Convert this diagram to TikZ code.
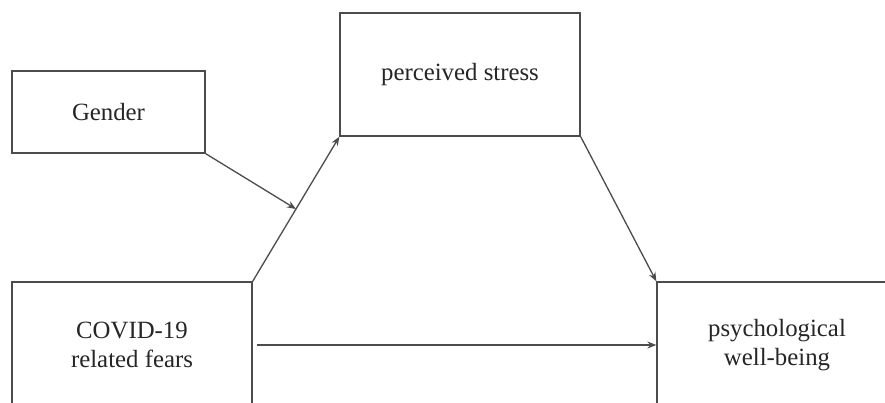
\documentclass[tikz,border=0pt]{standalone}
\usepackage{fontspec}
\setmainfont{Liberation Serif}
\usetikzlibrary{arrows.meta,calc}
\begin{document}
\begin{tikzpicture}[x=1pt,y=-1pt,
  box/.style={draw=black!70, line width=1.3pt, inner sep=0pt, align=center,
    font=\fontsize{24.8}{28.5}\selectfont, text=black!85},
  link/.style={draw=black!70, line width=1.3pt, -{Stealth[length=9pt,width=7pt]}}]
\useasboundingbox (0,0) rectangle (885,403);
\clip (0,0) rectangle (885,403);
\fill[white] (0,0) rectangle (885,403);
\node[box, minimum width=193pt, minimum height=82pt] (gender) at (108.5,112) {Gender};
\node[box, minimum width=240pt, minimum height=123pt] (stress) at (460,74.5) {perceived stress};
\node[box, minimum width=240pt, minimum height=126pt] (covid) at (132,345) {COVID-19\\related fears};
\node[box, minimum width=240pt, minimum height=126pt] (psych) at (777,345) {psychological\\well-being};
\coordinate (mid) at ($(covid.north east)!0.5!(stress.south west)$);
\draw[link] (covid.north east) -- (stress.south west);
\draw[link] (gender.south east) -- (mid);
\draw[link] (stress.south east) -- (psych.north west);
\draw[link, shorten <=4pt] (covid.east) -- (psych.west);
\end{tikzpicture}
\end{document}
